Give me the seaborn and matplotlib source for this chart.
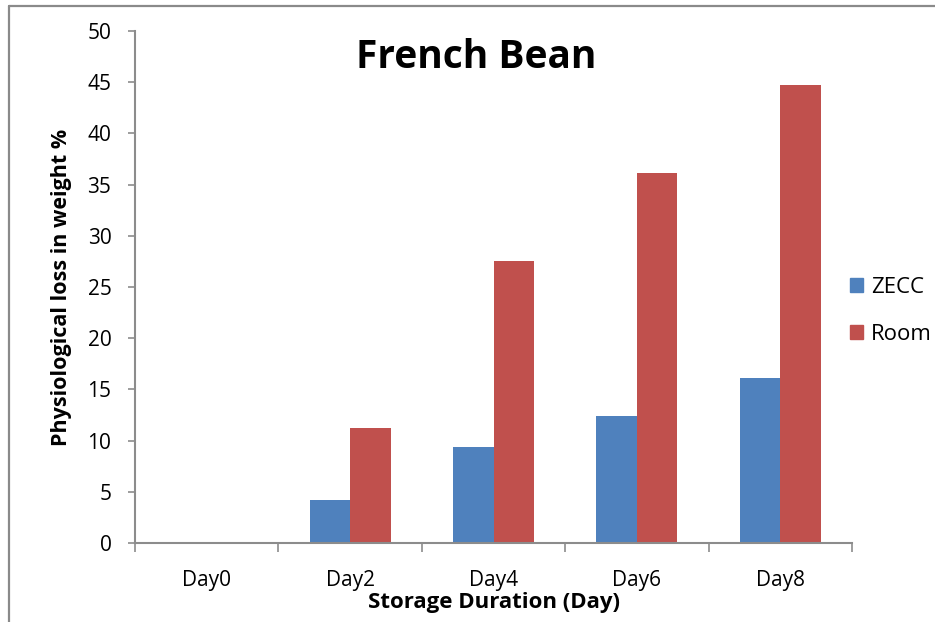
import matplotlib
matplotlib.use("Agg")
import matplotlib.pyplot as plt
from matplotlib.lines import Line2D
import seaborn as sns
import pandas as pd

days = ["Day0", "Day2", "Day4", "Day6", "Day8"]
zecc = [0, 4.2, 9.4, 12.4, 16.1]
room = [0, 11.2, 27.5, 36.1, 44.7]
series_names = ["ZECC", "Room"]
colors = ["#4F81BD", "#C0504D"]

df = pd.DataFrame({
    "day": days * 2,
    "value": zecc + room,
    "series": [series_names[0]] * len(days) + [series_names[1]] * len(days),
})

sns.set_theme(style="white")
plt.rcParams["font.family"] = ["Open Sans", "DejaVu Sans"]
plt.rcParams["text.color"] = "black"
plt.rcParams["xtick.labelcolor"] = "black"
plt.rcParams["ytick.labelcolor"] = "black"
plt.rcParams["axes.labelcolor"] = "black"

fig = plt.figure(figsize=(9.35, 6.22), dpi=100)
ax = fig.add_axes([135 / 935, 79 / 622, 717 / 935, 512 / 622])

sns.barplot(data=df, x="day", y="value", hue="series", order=days,
            hue_order=series_names, palette=colors, width=0.566, gap=0,
            linewidth=0, saturation=1, ax=ax, legend=False)

gray = "#8c8c8c"
ax.set_xlim(-0.5, 4.5)
ax.set_ylim(0, 50)
ax.set_yticks(range(0, 51, 5))
for s in ["top", "right"]:
    ax.spines[s].set_visible(False)
for s in ["left", "bottom"]:
    ax.spines[s].set_color(gray)
    ax.spines[s].set_linewidth(1.5)

ax.tick_params(axis="y", which="major", length=5, width=1.2, color=gray,
               direction="out", pad=12, labelsize=15, left=True)
ax.tick_params(axis="x", which="major", length=0, pad=19.5, labelsize=15)
ax.set_xticks([i - 0.5 for i in range(len(days) + 1)], minor=True)
ax.tick_params(axis="x", which="minor", length=6.5, width=1.2, color=gray,
               direction="out", bottom=True)

ax.set_xlabel("Storage Duration (Day)", fontsize=16, fontweight="bold", labelpad=0.5)
ax.set_ylabel("Physiological loss in weight %", fontsize=15.5, fontweight="bold", labelpad=11)
ax.text(0.4756, 0.928, "French Bean", transform=ax.transAxes, ha="center",
        va="baseline", fontsize=28, fontweight="bold")

handles = [plt.Rectangle((0, 0), 1, 1, color=c) for c in colors]
fig.legend(handles, series_names, loc="center left",
           bbox_to_anchor=(841 / 935, 1 - 311 / 622), frameon=False,
           fontsize=16, handlelength=0.6, handleheight=0.6,
           handletextpad=0.35, labelspacing=1.15, borderaxespad=0)

fig.add_artist(Line2D([9 / 935, 9 / 935], [0, 1 - 6 / 622], color="#8a8a8a",
                      lw=1.6, transform=fig.transFigure))
fig.add_artist(Line2D([9 / 935, 1], [1 - 6 / 622, 1 - 6 / 622], color="#8a8a8a",
                      lw=1.6, transform=fig.transFigure))

fig.savefig("out.png", dpi=100, facecolor="white")
